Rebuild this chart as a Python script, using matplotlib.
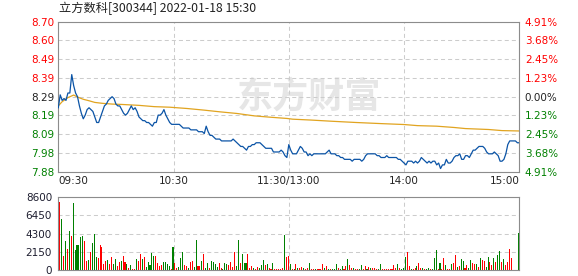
import numpy as np
import matplotlib
matplotlib.use('Agg')
import matplotlib.pyplot as plt

plt.rcParams['lines.scale_dashes'] = False

title = "立方数科[300344] 2022-01-18 15:30"
prev_close = 8.29
max_pct = 4.91
price_labels = ["7.88", "7.98", "8.09", "8.19", "8.29", "8.39", "8.49", "8.60", "8.70"]
pct_labels = ["4.91%", "3.68%", "2.45%", "1.23%", "0.00%", "1.23%", "2.45%", "3.68%", "4.91%"]
time_ticks = [0, 60, 120, 180, 240]
time_labels = ["09:30", "10:30", "11:30/13:00", "14:00", "15:00"]
vol_ticks = [0, 2150, 4300, 6450, 8600]
vol_labels = ["0", "2150", "4300", "6450", "8600"]

# one price per minute, 09:30 .. 15:00 (241 points)
price = [
    8.23, 8.30, 8.27, 8.28, 8.27, 8.31, 8.31, 8.41, 8.35, 8.31,
    8.29, 8.24, 8.20, 8.17, 8.19, 8.22, 8.23, 8.22, 8.21, 8.18,
    8.15, 8.15, 8.18, 8.21, 8.24, 8.25, 8.27, 8.28, 8.29, 8.28,
    8.25, 8.24, 8.24, 8.22, 8.20, 8.19, 8.20, 8.22, 8.24, 8.22,
    8.23, 8.21, 8.18, 8.17, 8.16, 8.16, 8.15, 8.15, 8.14, 8.13,
    8.15, 8.15, 8.19, 8.19, 8.20, 8.22, 8.19, 8.17, 8.15, 8.14,
    8.14, 8.14, 8.14, 8.14, 8.13, 8.12, 8.12, 8.12, 8.12, 8.11,
    8.11, 8.11, 8.11, 8.10, 8.10, 8.10, 8.09, 8.13, 8.10, 8.08,
    8.08, 8.07, 8.06, 8.06, 8.06, 8.05, 8.05, 8.05, 8.05, 8.05,
    8.05, 8.06, 8.05, 8.04, 8.03, 8.02, 8.02, 8.01, 8.00, 8.02,
    8.02, 8.03, 8.03, 8.04, 8.04, 8.04, 8.03, 8.02, 8.01, 8.01,
    8.01, 8.01, 7.99, 7.99, 7.99, 7.99, 8.00, 7.99, 7.97, 7.96,
    8.03,
    8.00, 7.98, 7.98, 7.98, 8.00, 8.02, 8.01, 7.99, 7.99,
    7.97, 7.98, 7.97, 7.98, 7.98, 7.98, 7.98, 7.98, 7.98, 7.98,
    7.99, 8.00, 7.98, 7.98, 7.98, 7.97, 7.97, 7.96, 7.96, 7.95,
    7.95, 7.95, 7.95, 7.94, 7.95, 7.95, 7.95, 7.95, 7.94, 7.95,
    7.97, 7.98, 7.98, 7.98, 7.98, 7.98, 7.97, 7.97, 7.96, 7.96,
    7.96, 7.97, 7.96, 7.96, 7.96, 7.96, 7.96, 7.95, 7.95, 7.94,
    7.93, 7.92, 7.94, 7.94, 7.94, 7.93, 7.94, 7.93, 7.94, 7.96,
    7.95, 7.94, 7.93, 7.94, 7.93, 7.94, 7.94, 7.92, 7.93, 7.90,
    7.92, 7.92, 7.95, 7.93, 7.93, 7.94, 7.96, 7.97, 7.97, 7.98,
    7.95, 7.95, 7.97, 7.97, 7.96, 7.98, 8.00, 8.00, 8.01, 8.02,
    8.02, 8.02, 8.01, 7.99, 7.98, 7.98, 7.98, 7.99, 7.98, 7.97,
    7.94, 7.94, 7.95, 7.98, 8.03, 8.05, 8.05, 8.05, 8.05, 8.04,
    8.04,
]

# average price line, read at these minutes
avg_minutes = [0, 2, 5, 8, 10, 13, 16, 19, 23, 28, 33, 42, 50, 58, 67, 76, 84, 93,
               102, 110, 119, 122, 132, 142, 155, 168, 180, 187, 197, 206, 212,
               224, 231, 240]
avg_values = [8.240, 8.263, 8.285, 8.299, 8.288, 8.276, 8.268, 8.259, 8.254, 8.250,
              8.248, 8.243, 8.236, 8.233, 8.226, 8.217, 8.208, 8.199, 8.186, 8.179,
              8.172, 8.168, 8.163, 8.157, 8.150, 8.144, 8.139, 8.133, 8.130, 8.123,
              8.117, 8.112, 8.106, 8.104]

# volume per minute, minutes 1 .. 240
volume = [
    8016, 5992, 1673, 3424, 2490, 4591, 4008, 7860, 2373, 2957,
    2957, 3852, 4008, 3424, 1089, 1206, 2101, 3190, 4202, 1556,
    1479, 2957, 2724, 739, 1089, 1206, 739, 1517, 739, 1323,
    506, 934, 1128, 1634, 1012, 739, 272, 623, 156, 117,
    1323, 1089, 1868, 1323, 1556, 430, 1012, 623, 1984, 1673,
    1673, 895, 506, 623, 934, 934, 700, 545, 156, 2724,
    817, 311, 428, 1479, 2179, 623, 545, 233, 934, 1089,
    428, 3541, 506, 506, 1089, 1868, 233, 817, 311, 1089,
    1012, 739, 428, 817, 233, 156, 817, 778, 623, 934,
    428, 2101, 545, 3541, 817, 1868, 817, 817, 1868, 233,
    545, 233, 156, 428, 311, 623, 1167, 623, 700, 233,
    156, 817, 156, 156, 156, 156, 233, 4124, 1595, 1673,
    739, 156, 156, 700, 311, 233, 428, 311, 156, 233,
    817, 156, 156, 156, 156, 156, 156, 700, 233, 506,
    156, 156, 156, 156, 700, 233, 156, 506, 156, 506,
    1323, 623, 233, 311, 156, 156, 156, 623, 156, 506,
    156, 428, 233, 311, 233, 156, 156, 700, 156, 156,
    156, 156, 156, 156, 623, 233, 700, 233, 156, 233,
    1517, 2101, 506, 156, 156, 311, 506, 817, 233, 233,
    156, 156, 233, 156, 156, 1440, 2334, 156, 817, 156,
    1440, 623, 156, 156, 700, 817, 1790, 428, 506, 1323,
    1089, 233, 623, 311, 1206, 817, 739, 778, 428, 1440,
    1206, 1089, 428, 1556, 1012, 623, 1479, 934, 1790, 2257,
    1012, 1323, 623, 934, 2490, 1479, 60, 60, 60, 4319,
]
vol_dir = (
    "rgrgrgrggg" "gggrrgrggg" "rrrrrgrrgg" "rrgrrgrgrr" "grrgrggggg"
    "rrrrggggrg" "rrgggrrgrr" "ggrrgrggrg" "gggrrgggrr" "rrggrgggrr"
    "rgrrgggrgr" "rgrrrrrgrr"
    "grgrgrrgrr" "grrgrrrrgr" "grgggrggrr" "grrgrrggrr" "grgrrrggrr"
    "rrrrrrgrgg" "grrgrrgrrg" "rggrgggrgr" "rgrrgrrgrg" "grrggrrgrg"
    "rrggrrgrgg" "rgrrrrrrrg"
)

up_color = '#FF0000'
down_color = '#008000'
flat_color = '#222222'
grid_color = '#CCCCCC'
spine_color = '#8C8C8C'

fig = plt.figure(figsize=(5.78, 2.76), dpi=100)
W, H = 578.0, 276.0
x0, x1 = 58.3, 519.3
ax = fig.add_axes([x0 / W, (H - 171.7) / H, (x1 - x0) / W, 150.0 / H])
axv = fig.add_axes([x0 / W, (H - 270.3) / H, (x1 - x0) / W, 73.6 / H])

lo = prev_close * (1 - max_pct / 100)
hi = prev_close * (1 + max_pct / 100)
pticks = np.linspace(lo, hi, len(price_labels))
minutes = np.arange(len(price))

dash = (0, (2.9, 2.2))
for a in (ax, axv):
    for s in a.spines.values():
        s.set_color(spine_color)
        s.set_linewidth(0.8)
    a.set_xlim(0, 240)
    a.set_xticks(time_ticks)
    a.tick_params(length=0)
    a.grid(True, color=grid_color, linewidth=0.75, linestyle=dash)
    a.set_axisbelow(True)

# watermark
ax.text(0.545, 0.50, "东方财富", transform=ax.transAxes, ha='center', va='center',
        fontsize=26, fontweight='bold', color='#E6E6E6', family=['Noto Sans CJK SC', 'DejaVu Sans'],
        fontstyle='italic', zorder=0.5)

ax.plot(minutes, price, color='#0B54A6', linewidth=0.9, zorder=3)
ax.plot(avg_minutes, avg_values, color='#E1A420', linewidth=0.9, zorder=2)
ax.set_ylim(lo, hi)
ax.set_yticks(pticks)
ax.set_yticklabels(price_labels, fontsize=7.5)
ax.tick_params(axis='y', pad=2.5)
for i, t in enumerate(ax.get_yticklabels()):
    mid = len(price_labels) // 2
    t.set_color(up_color if i > mid else (down_color if i < mid else flat_color))
ax.set_xticklabels(time_labels, fontsize=7.5, color='#222222')
ax.tick_params(axis='x', pad=3)
xl = ax.get_xticklabels()
xl[0].set_ha('left')
xl[-1].set_ha('right')

axr = ax.twinx()
axr.set_ylim(lo, hi)
axr.set_yticks(pticks)
axr.set_yticklabels(pct_labels, fontsize=7.5)
axr.tick_params(length=0, pad=4)
for s in axr.spines.values():
    s.set_visible(False)
for i, t in enumerate(axr.get_yticklabels()):
    mid = len(pct_labels) // 2
    t.set_color(up_color if i > mid else (down_color if i < mid else flat_color))

vm = np.arange(1, len(volume) + 1)
vcols = [up_color if c == 'r' else down_color for c in vol_dir]
axv.bar(vm, volume, width=-0.55, align='edge', color=vcols, linewidth=0, zorder=2,
        antialiased=False)
axv.set_ylim(0, vol_ticks[-1])
axv.set_yticks(vol_ticks)
axv.set_yticklabels(vol_labels, fontsize=7.5, color='#1E1E30')
axv.tick_params(axis='y', pad=4.5)
axv.set_xticklabels([])

fig.text(59 / W, 1 - 8.5 / H, title, ha='left', va='center', fontsize=8.8,
         color='#222222', family=['Noto Sans CJK SC', 'DejaVu Sans'])

fig.savefig('out.png', dpi=100)
